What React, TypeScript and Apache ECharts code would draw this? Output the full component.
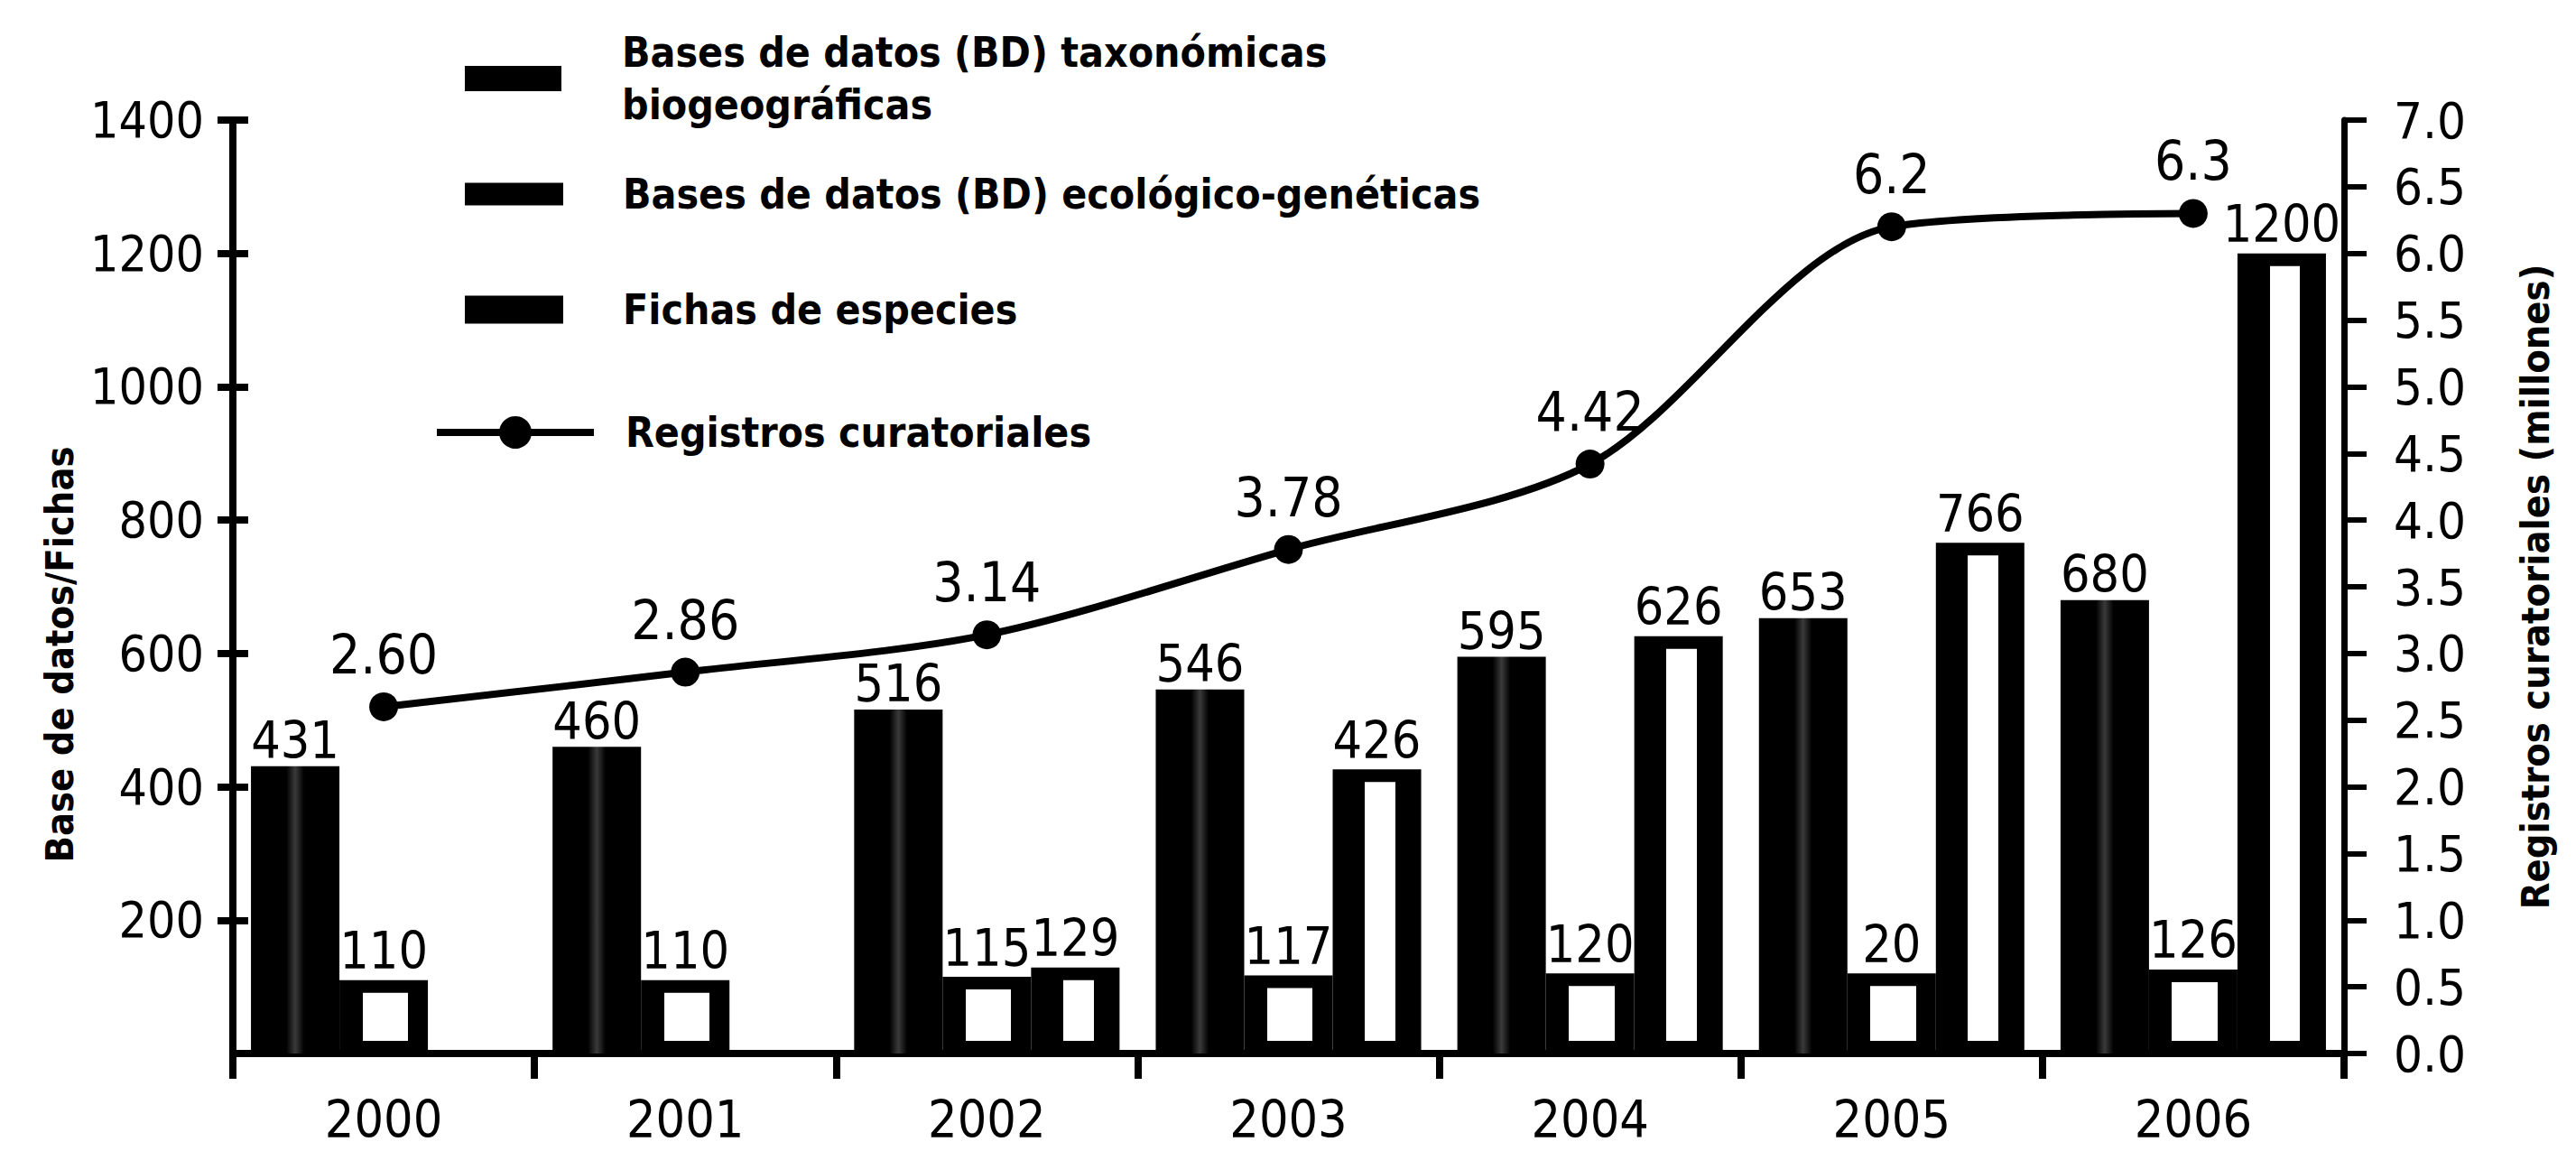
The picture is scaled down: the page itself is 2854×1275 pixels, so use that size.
import React, { useEffect, useRef } from "react";
import * as echarts from "echarts";

const years = ["2000", "2001", "2002", "2003", "2004", "2005", "2006"];
const taxonomicas = [431, 460, 516, 546, 595, 653, 680];
const ecologicas = [110, 110, 115, 117, 120, 120, 126];
const ecologicasLabels = ["110", "110", "115", "117", "120", "20", "126"];
const fichas = [null, null, 129, 426, 626, 766, 1200];
const registros = [2.6, 2.86, 3.14, 3.78, 4.42, 6.2, 6.3];
const registrosLabels = ["2.60", "2.86", "3.14", "3.78", "4.42", "6.2", "6.3"];

const leftAxis = { min: 0, max: 1400, interval: 200 };
const rightAxis = { min: 0, max: 7, interval: 0.5 };

const NAMES = [
  "Bases de datos (BD) taxonómicas biogeográficas",
  "Bases de datos (BD) ecológico-genéticas",
  "Fichas de especies",
  "Registros curatoriales",
];

const NARROW = "'Liberation Sans Narrow', 'DejaVu Sans Condensed', sans-serif";
const COND = "'DejaVu Sans Condensed', 'Liberation Sans Narrow', sans-serif";

function hGrad(stops: [number, string][]) {
  return new echarts.graphic.LinearGradient(
    0,
    0,
    1,
    0,
    stops.map(([offset, color]) => ({ offset, color }))
  );
}

export default function App() {
  const ref = useRef<HTMLDivElement>(null);

  useEffect(() => {
    document.body.style.margin = "0";
    if (!ref.current) return;
    const chart = echarts.init(ref.current, null, {
      renderer: "svg",
      width: 2854,
      height: 1275,
    });

    const legendText = {
      fontFamily: NARROW,
      fontWeight: "bold" as const,
      fontSize: 46,
      color: "#000",
      lineHeight: 58,
    };

    const barLabel = {
      show: true,
      position: "top" as const,
      distance: 0,
      fontFamily: NARROW,
      fontSize: 57,
      color: "#000",
    };

    const option = {
      animation: false,
      backgroundColor: "#fff",
      grid: { left: 258, right: 257, top: 133, bottom: 108, containLabel: false },
      legend: [
        {
          data: [{ name: NAMES[0], icon: "rect", itemStyle: { color: "#000" } }],
          left: 515,
          top: 29,
          padding: 0,
          itemWidth: 107,
          itemHeight: 28,
          selectedMode: false,
          formatter: () => "Bases de datos (BD) taxonómicas\nbiogeográficas",
          textStyle: { ...legendText, padding: [0, 0, 0, 62] },
        },
        {
          data: [{ name: NAMES[1], icon: "rect", itemStyle: { color: "#000" } }],
          left: 515,
          top: 186,
          padding: 0,
          itemWidth: 107,
          itemHeight: 23,
          selectedMode: false,
          textStyle: { ...legendText, padding: [0, 0, 0, 62] },
        },
        {
          data: [{ name: NAMES[2], icon: "rect", itemStyle: { color: "#000" } }],
          left: 515,
          top: 314,
          padding: 0,
          itemWidth: 107,
          itemHeight: 29,
          selectedMode: false,
          textStyle: { ...legendText, padding: [0, 0, 0, 62] },
        },
        {
          data: [
            {
              name: NAMES[3],
              itemStyle: { color: "#000" },
              lineStyle: { color: "#000", width: 8 },
            },
          ],
          left: 480,
          top: 450,
          padding: 0,
          itemWidth: 174,
          itemHeight: 45,
          selectedMode: false,
          lineStyle: { color: "#000", width: 8 },
          textStyle: { ...legendText, padding: [0, 0, 0, 30] },
        },
      ],
      xAxis: {
        type: "category",
        data: years,
        boundaryGap: true,
        axisLine: { show: true, lineStyle: { color: "#000", width: 8 } },
        axisTick: {
          show: true,
          interval: 0,
          length: 28,
          lineStyle: { color: "#000", width: 8 },
        },
        axisLabel: {
          fontFamily: NARROW,
          fontSize: 57,
          lineHeight: 57,
          color: "#000",
          margin: 44,
        },
      },
      yAxis: [
        {
          type: "value",
          position: "left",
          ...leftAxis,
          name: "Base de datos/Fichas",
          nameLocation: "middle",
          nameRotate: 90,
          nameGap: 171,
          nameTextStyle: {
            fontFamily: NARROW,
            fontWeight: "bold",
            fontSize: 43,
            color: "#000",
            padding: [0, 150, 0, 0],
          },
          axisLine: { show: true, lineStyle: { color: "#000", width: 8 } },
          axisTick: { show: true, length: 17, lineStyle: { color: "#000", width: 8 } },
          axisLabel: {
            showMinLabel: false,
            fontFamily: NARROW,
            fontSize: 55,
            color: "#000",
            margin: 32,
            formatter: (v: number) => String(v),
          },
          splitLine: { show: false },
        },
        {
          type: "value",
          position: "right",
          ...rightAxis,
          name: "Registros curatoriales (millones)",
          nameLocation: "middle",
          nameRotate: 90,
          nameGap: 190,
          nameTextStyle: {
            fontFamily: NARROW,
            fontWeight: "bold",
            fontSize: 43,
            color: "#000",
          },
          axisLine: { show: true, lineStyle: { color: "#000", width: 7 } },
          axisTick: { show: true, length: 25, lineStyle: { color: "#000", width: 6 } },
          axisLabel: {
            fontFamily: COND,
            fontSize: 56,
            color: "#000",
            margin: 55,
            formatter: (v: number) => v.toFixed(1),
          },
          splitLine: { show: false },
        },
        {
          type: "value",
          position: "left",
          ...leftAxis,
          axisLine: { show: false },
          axisTick: {
            show: true,
            inside: true,
            length: 17,
            lineStyle: { color: "#000", width: 8 },
          },
          axisLabel: { show: false },
          splitLine: { show: false },
        },
      ],
      series: [
        {
          name: NAMES[0],
          type: "bar",
          data: taxonomicas,
          barGap: "0%",
          barCategoryGap: "12%",
          itemStyle: {
            color: hGrad([
              [0, "#000"],
              [0.4, "#000"],
              [0.5, "#3a3a3a"],
              [0.6, "#000"],
              [1, "#000"],
            ]),
          },
          label: { ...barLabel },
        },
        {
          name: NAMES[1],
          type: "bar",
          data: ecologicas,
          barGap: "0%",
          barCategoryGap: "12%",
          itemStyle: {
            color: hGrad([
              [0, "#000"],
              [0.22, "#000"],
              [0.22, "#fff"],
              [0.82, "#fff"],
              [0.82, "#000"],
              [1, "#000"],
            ]),
            borderColor: "#000",
            borderWidth: 14,
          },
          label: {
            ...barLabel,
            distance: 4,
            formatter: (p: any) => ecologicasLabels[p.dataIndex],
          },
        },
        {
          name: NAMES[2],
          type: "bar",
          data: fichas,
          barGap: "0%",
          barCategoryGap: "12%",
          itemStyle: {
            color: hGrad([
              [0, "#000"],
              [0.34, "#000"],
              [0.34, "#fff"],
              [0.74, "#fff"],
              [0.74, "#000"],
              [1, "#000"],
            ]),
            borderColor: "#000",
            borderWidth: 14,
          },
          label: { ...barLabel, distance: 4 },
        },
        {
          name: NAMES[3],
          type: "line",
          yAxisIndex: 1,
          data: registros,
          smooth: 0.3,
          symbol: "circle",
          symbolSize: 32,
          z: 10,
          itemStyle: { color: "#000" },
          lineStyle: { color: "#000", width: 8 },
          label: {
            show: true,
            position: "top",
            distance: 12,
            fontFamily: NARROW,
            fontSize: 60,
            color: "#000",
            formatter: (p: any) => registrosLabels[p.dataIndex],
          },
        },
      ],
    };

    chart.setOption(option as any);
    return () => chart.dispose();
  }, []);

  return <div ref={ref} style={{ width: 2854, height: 1275 }} />;
}
